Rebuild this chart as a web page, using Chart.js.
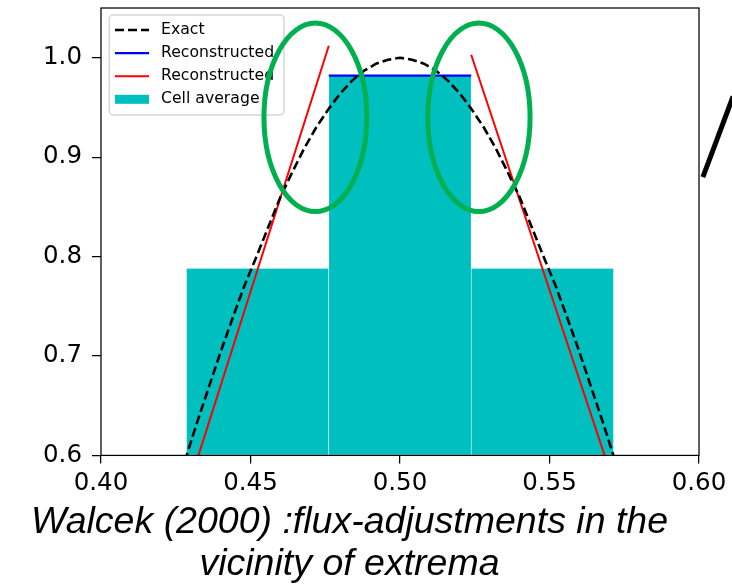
<!DOCTYPE html>
<html lang="en">
<head>
<meta charset="UTF-8">
<title>Walcek (2000) flux adjustments near extrema</title>
<style>
  html, body { margin: 0; padding: 0; background: #ffffff; }
  #chart { display: block; }
</style>
</head>
<body>
<canvas id="chart" width="732" height="585"></canvas>
<script src="https://cdn.jsdelivr.net/npm/chart.js"></script>
<script>
// exact profile
const exactX = [0.428, 0.432, 0.436, 0.440, 0.444, 0.448, 0.452, 0.456, 0.460, 0.464,
  0.468, 0.472, 0.476, 0.480, 0.484, 0.488, 0.492, 0.496, 0.500, 0.504,
  0.508, 0.512, 0.516, 0.520, 0.524, 0.528, 0.532, 0.536, 0.540, 0.544,
  0.548, 0.552, 0.556, 0.560, 0.564, 0.568, 0.572];
const exactY = [0.594, 0.632, 0.668, 0.704, 0.738, 0.771, 0.800, 0.830, 0.860, 0.885,
  0.909, 0.930, 0.948, 0.964, 0.977, 0.987, 0.994, 0.998, 1.000, 0.998,
  0.994, 0.987, 0.977, 0.964, 0.948, 0.930, 0.909, 0.885, 0.860, 0.830,
  0.800, 0.771, 0.738, 0.704, 0.668, 0.632, 0.594];

// cells (width 1/21) and their averages
const cellEdges = [0.42857, 0.47619, 0.52381, 0.57143];
const cellAverage = [0.788, 0.982, 0.788];

// reconstruction in the central cell (blue)
const centralX = [0.47619, 0.52381];
const centralY = [0.982, 0.982];

// linear reconstructions in the side cells (red)
const leftX = [0.42857, 0.47619];
const leftY = [0.562, 1.012];
const rightX = [0.52381, 0.57143];
const rightY = [1.003, 0.573];

const xTicks = [0.40, 0.45, 0.50, 0.55, 0.60];
const yTicks = [0.6, 0.7, 0.8, 0.9, 1.0];

const captionLines = ['Walcek (2000) :flux-adjustments in the', 'vicinity of extrema'];

// hand-drawn highlights on the figure, in data units
const highlights = [
  { cx: 0.4717, cy: 0.940, rx: 0.0172, ry: 0.0948 },
  { cx: 0.5264, cy: 0.940, rx: 0.0171, ry: 0.0948 }
];
const strayStroke = { x: [0.6013, 0.6114], y: [0.880, 0.961] };

const pts = (xs, ys) => xs.map((x, i) => ({ x: x, y: ys[i] }));

// matplotlib-ish legend box in the upper left corner
const legendBox = {
  id: 'legendBox',
  afterDatasetsDraw(chart) {
    const { ctx, chartArea } = chart;
    const x0 = chartArea.left + 8.3, y0 = chartArea.top + 7;
    ctx.save();
    ctx.beginPath();
    ctx.roundRect(x0, y0, 174.7, 100, 4);
    ctx.fillStyle = 'rgba(255,255,255,0.8)';
    ctx.fill();
    ctx.strokeStyle = '#d6d6d6';
    ctx.lineWidth = 1.5;
    ctx.stroke();
    ctx.font = '15.7px "DejaVu Sans"';
    ctx.textBaseline = 'middle';
    chart.data.datasets.forEach((ds, i) => {
      const y = y0 + 15 + i * 23.1;
      const lx = x0 + 5.7;
      if (ds.type === 'bar') {
        ctx.fillStyle = ds.backgroundColor;
        ctx.fillRect(lx, y - 4.5, 34, 9);
      } else {
        ctx.strokeStyle = ds.borderColor;
        ctx.lineWidth = ds.borderWidth;
        ctx.setLineDash(ds.borderDash || []);
        ctx.beginPath();
        ctx.moveTo(lx, y);
        ctx.lineTo(lx + 34, y);
        ctx.stroke();
        ctx.setLineDash([]);
      }
      ctx.fillStyle = '#000000';
      ctx.fillText(ds.label, x0 + 51.7, y);
    });
    ctx.restore();
  }
};

// axes frame plus the annotations drawn over the figure
const overlay = {
  id: 'overlay',
  afterDraw(chart) {
    const { ctx, chartArea, scales } = chart;
    const sx = scales.x, sy = scales.y;
    ctx.save();
    ctx.strokeStyle = '#000000';
    ctx.lineWidth = 1.25;
    ctx.strokeRect(chartArea.left, chartArea.top, chartArea.right - chartArea.left, chartArea.bottom - chartArea.top);

    ctx.strokeStyle = '#00b050';
    ctx.lineWidth = 5;
    highlights.forEach(h => {
      const cx = sx.getPixelForValue(h.cx), cy = sy.getPixelForValue(h.cy);
      const rx = Math.abs(sx.getPixelForValue(h.cx + h.rx) - cx);
      const ry = Math.abs(sy.getPixelForValue(h.cy + h.ry) - cy);
      ctx.beginPath();
      ctx.ellipse(cx, cy, rx, ry, 0, 0, Math.PI * 2);
      ctx.stroke();
    });

    ctx.strokeStyle = '#000000';
    ctx.lineWidth = 5;
    ctx.beginPath();
    ctx.moveTo(sx.getPixelForValue(strayStroke.x[0]), sy.getPixelForValue(strayStroke.y[0]));
    ctx.lineTo(sx.getPixelForValue(strayStroke.x[1]), sy.getPixelForValue(strayStroke.y[1]));
    ctx.stroke();
    ctx.restore();
  }
};

const tickFont = { family: 'DejaVu Sans', size: 24.5 };

new Chart(document.getElementById('chart'), {
  type: 'line',
  data: {
    datasets: [
      {
        label: 'Exact',
        data: pts(exactX, exactY),
        borderColor: '#000000',
        borderWidth: 2.6,
        borderDash: [9, 4],
        pointRadius: 0,
        tension: 0,
        clip: 0
      },
      {
        label: 'Reconstructed',
        data: pts(centralX, centralY),
        borderColor: '#0000ff',
        borderWidth: 2.4,
        pointRadius: 0,
        clip: 0
      },
      {
        label: 'Reconstructed',
        data: pts(leftX, leftY).concat([{ x: 0.5, y: null }], pts(rightX, rightY)),
        borderColor: '#ff0000',
        borderWidth: 2,
        pointRadius: 0,
        spanGaps: false,
        clip: 0
      },
      {
        type: 'bar',
        label: 'Cell average',
        data: cellAverage.map((v, i) => ({ x: (cellEdges[i] + cellEdges[i + 1]) / 2, y: v })),
        backgroundColor: '#00bfbf',
        borderColor: '#ffffff',
        borderWidth: { left: 0.6, right: 0.6, top: 0, bottom: 0 },
        base: 0.6,
        barPercentage: 1,
        categoryPercentage: 1,
        clip: 0
      }
    ]
  },
  options: {
    responsive: false,
    animation: false,
    events: [],
    layout: { padding: { top: 8, right: 33, bottom: 0, left: 0 } },
    plugins: {
      legend: { display: false },
      tooltip: { enabled: false },
      title: {
        display: true,
        position: 'bottom',
        text: captionLines,
        color: '#000000',
        font: { family: 'Liberation Sans', size: 37.5, style: 'italic', weight: 'normal', lineHeight: 1.112 },
        padding: { top: 0, bottom: 0 }
      }
    },
    scales: {
      x: {
        type: 'linear',
        min: 0.40,
        max: 0.60,
        offset: false,
        afterBuildTicks: s => { s.ticks = xTicks.map(v => ({ value: v })); },
        afterFit: s => { s.height = 46.2; s.paddingLeft = 0; s.paddingRight = 0; },
        grid: { offset: false, drawOnChartArea: false, drawTicks: true, tickLength: 8, color: '#000000', lineWidth: 1.25 },
        border: { display: false },
        ticks: { color: '#000000', font: tickFont, padding: 6, maxRotation: 0, autoSkip: false, callback: v => v.toFixed(2) }
      },
      y: {
        type: 'linear',
        min: 0.6,
        max: 1.05,
        afterBuildTicks: s => { s.ticks = yTicks.map(v => ({ value: v })); },
        afterFit: s => { s.width = 101; s.paddingTop = 0; s.paddingBottom = 0; },
        grid: { drawOnChartArea: false, drawTicks: true, tickLength: 9, color: '#000000', lineWidth: 1.25 },
        border: { display: false },
        ticks: { color: '#000000', font: tickFont, padding: 10, autoSkip: false, callback: v => v.toFixed(1) }
      }
    }
  },
  plugins: [legendBox, overlay]
});
</script>
</body>
</html>
